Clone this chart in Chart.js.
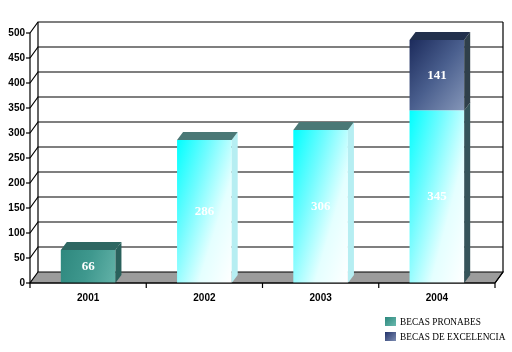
<!DOCTYPE html>
<html>
<head>
<meta charset="utf-8">
<script src="https://cdn.jsdelivr.net/npm/chart.js@4/dist/chart.umd.min.js"></script>
<style>
  html, body { margin: 0; padding: 0; background: #fff; }
  #wrap { position: relative; width: 512px; height: 352px; }
  #legend { position: absolute; left: 385px; top: 314px; font-family: "Liberation Serif", "Times New Roman", serif; font-size: 9.3px; color: #000; }
  .lg-item { display: flex; align-items: center; height: 15px; }
  .lg-box { width: 11px; height: 9px; margin-right: 4px; }
</style>
</head>
<body>
<div id="wrap">
  <canvas id="chart" width="512" height="352"></canvas>
  <div id="legend"></div>
</div>
<script>
  // chart values
  const years = ['2001', '2002', '2003', '2004'];
  const pronabes = [66, 286, 306, 345];
  const excelencia = [0, 0, 0, 141];
  const yMax = 500;
  const yStep = 50;

  // look of each bar (front / side / top)
  const pronabesLook = ['teal', 'cyan', 'cyan', 'cyanDark'];
  const excelenciaLook = ['navy', 'navy', 'navy', 'navy'];

  const WALL = { dx: 8, dy: 11 };   // depth of back wall
  const BAR = { dx: 6, dy: 8 };     // depth of each bar

  const looks = {
    teal:     { front: ['#2e887e', '#3f988e', '#63b2a8'], side: '#2a615c', top: '#2e6762', mix: [0.85, 0.15] },
    cyan:     { front: ['#00ffff', '#70fcff', '#e4ffff', '#ffffff'], side: '#b6eef2', top: '#4a7876', mix: [0.55, 0.45] },
    cyanDark: { front: ['#00ffff', '#70fcff', '#e4ffff', '#ffffff'], side: '#35545a', top: '#4a7876', mix: [0.55, 0.45] },
    navy:     { front: ['#1c2b5c', '#4a5f8e', '#8596b8'], side: '#2f3f4a', top: '#22304c', mix: [0.5, 0.5] }
  };

  function frontGradient(ctx, el, look) {
    const left = el.x - el.width / 2, right = el.x + el.width / 2;
    const top = Math.min(el.y, el.base), h = Math.abs(el.base - el.y) || 1;
    const w = right - left;
    const a = look.mix[0] / w, b = look.mix[1] / h, s = a * a + b * b;
    const g = ctx.createLinearGradient(left, top, left + a / s, top + b / s);
    const n = look.front.length - 1;
    look.front.forEach((c, k) => g.addColorStop(k / n, c));
    return g;
  }

  function lookOf(di, i) {
    return looks[di === 0 ? pronabesLook[i] : excelenciaLook[i]];
  }

  const depthPlugin = {
    id: 'depth3d',
    beforeDatasetsDraw(chart) {
      const { ctx, chartArea: ca, scales } = chart;
      const y = scales.y;
      ctx.save();
      ctx.strokeStyle = '#000';
      ctx.lineWidth = 1.2;

      // floor
      ctx.fillStyle = '#9c9c9c';
      ctx.beginPath();
      ctx.moveTo(ca.left, ca.bottom);
      ctx.lineTo(ca.right, ca.bottom);
      ctx.lineTo(ca.right + WALL.dx, ca.bottom - WALL.dy);
      ctx.lineTo(ca.left + WALL.dx, ca.bottom - WALL.dy);
      ctx.closePath();
      ctx.fill();
      ctx.stroke();

      // back wall grid
      for (let v = yStep; v <= yMax; v += yStep) {
        const py = y.getPixelForValue(v);
        ctx.beginPath();
        ctx.moveTo(ca.left, py);
        ctx.lineTo(ca.left + WALL.dx, py - WALL.dy);
        ctx.lineTo(ca.right + WALL.dx, py - WALL.dy);
        ctx.stroke();
      }
      ctx.beginPath();
      ctx.moveTo(ca.left + WALL.dx, ca.top - WALL.dy);
      ctx.lineTo(ca.left + WALL.dx, ca.bottom - WALL.dy);
      ctx.moveTo(ca.right + WALL.dx, ca.top - WALL.dy);
      ctx.lineTo(ca.right + WALL.dx, ca.bottom - WALL.dy);
      ctx.moveTo(ca.left, ca.top);
      ctx.lineTo(ca.left, ca.bottom);
      ctx.stroke();

      // y tick marks
      for (let v = 0; v <= yMax; v += yStep) {
        const py = y.getPixelForValue(v);
        ctx.beginPath();
        ctx.moveTo(ca.left - 4, py);
        ctx.lineTo(ca.left, py);
        ctx.stroke();
      }
      ctx.restore();

      // gradient fills for the front faces
      chart.data.datasets.forEach((ds, di) => {
        chart.getDatasetMeta(di).data.forEach((el, i) => {
          el.options.backgroundColor = frontGradient(ctx, el, lookOf(di, i));
        });
      });
    },
    afterDatasetsDraw(chart) {
      const { ctx, chartArea: ca } = chart;
      ctx.save();

      years.forEach((yr, i) => {
        // highest visible segment of this bar gets the top face
        let topDi = -1;
        chart.data.datasets.forEach((ds, di) => { if (ds.data[i] > 0) topDi = di; });

        chart.data.datasets.forEach((ds, di) => {
          if (!(ds.data[i] > 0)) return;
          const el = chart.getDatasetMeta(di).data[i];
          const look = lookOf(di, i);
          const left = el.x - el.width / 2, right = el.x + el.width / 2;

          // side face
          ctx.fillStyle = look.side;
          ctx.beginPath();
          ctx.moveTo(right, el.y);
          ctx.lineTo(right + BAR.dx, el.y - BAR.dy);
          ctx.lineTo(right + BAR.dx, el.base - BAR.dy);
          ctx.lineTo(right, el.base);
          ctx.closePath();
          ctx.fill();

          if (di === topDi) {
            ctx.fillStyle = look.top;
            ctx.beginPath();
            ctx.moveTo(left, el.y);
            ctx.lineTo(left + BAR.dx, el.y - BAR.dy);
            ctx.lineTo(right + BAR.dx, el.y - BAR.dy);
            ctx.lineTo(right, el.y);
            ctx.closePath();
            ctx.fill();
          }

          // value label
          ctx.fillStyle = '#fff';
          ctx.font = 'bold 13px "Liberation Serif", "Times New Roman", serif';
          ctx.textAlign = 'center';
          ctx.textBaseline = 'middle';
          ctx.fillText(String(ds.data[i]), el.x, (el.y + el.base) / 2);
        });
      });

      // front x axis with category ticks
      ctx.strokeStyle = '#000';
      ctx.lineWidth = 1.2;
      ctx.beginPath();
      ctx.moveTo(ca.left, ca.bottom);
      ctx.lineTo(ca.right, ca.bottom);
      ctx.lineTo(ca.right + WALL.dx, ca.bottom - WALL.dy);
      const catW = (ca.right - ca.left) / years.length;
      for (let k = 0; k <= years.length; k++) {
        ctx.moveTo(ca.left + k * catW, ca.bottom);
        ctx.lineTo(ca.left + k * catW, ca.bottom + 5);
      }
      ctx.stroke();
      ctx.restore();
    }
  };

  const chart = new Chart(document.getElementById('chart'), {
    type: 'bar',
    data: {
      labels: years,
      datasets: [
        { label: 'BECAS PRONABES', data: pronabes, backgroundColor: pronabes.map(() => '#2c877d'), legendColor: ['#2c877d', '#6ab9ae'] },
        { label: 'BECAS DE EXCELENCIA', data: excelencia, backgroundColor: excelencia.map(() => '#2a3c6c'), legendColor: ['#22336a', '#7d8db2'] }
      ]
    },
    options: {
      responsive: false,
      animation: false,
      devicePixelRatio: 1,
      categoryPercentage: 1,
      barPercentage: 0.47,
      layout: { padding: { top: 33, right: 17, bottom: 0, left: 0 } },
      plugins: { legend: { display: false }, tooltip: { enabled: false } },
      scales: {
        x: {
          stacked: true,
          grid: { display: false, drawTicks: false },
          border: { display: false },
          ticks: { padding: 9, color: '#000', font: { family: 'Liberation Sans', weight: 'bold', size: 10 } },
          afterFit(scale) { scale.height = 69; }
        },
        y: {
          stacked: true,
          min: 0,
          max: yMax,
          grid: { display: false, drawTicks: false },
          border: { display: false },
          ticks: { stepSize: yStep, padding: 5, color: '#000', font: { family: 'Liberation Sans', weight: 'bold', size: 10 } },
          afterFit(scale) { scale.width = 30; }
        }
      }
    },
    plugins: [depthPlugin]
  });

  // legend stacked in the lower right
  const legendEl = document.getElementById('legend');
  chart.data.datasets.forEach(ds => {
    const item = document.createElement('div');
    item.className = 'lg-item';
    const box = document.createElement('span');
    box.className = 'lg-box';
    box.style.background = `linear-gradient(135deg, ${ds.legendColor[0]}, ${ds.legendColor[1]})`;
    const txt = document.createElement('span');
    txt.textContent = ds.label;
    item.appendChild(box);
    item.appendChild(txt);
    legendEl.appendChild(item);
  });
</script>
</body>
</html>
